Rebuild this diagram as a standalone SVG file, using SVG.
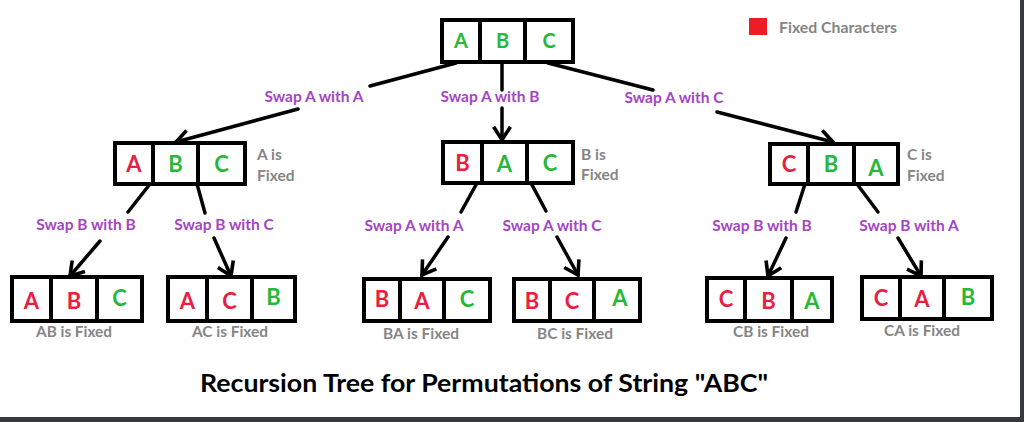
<svg xmlns="http://www.w3.org/2000/svg" width="1024" height="422" viewBox="0 0 1024 422">
<defs>
<marker id="arr" markerUnits="userSpaceOnUse" markerWidth="24" markerHeight="24" viewBox="-14 -10 18 20" refX="0" refY="0" orient="auto">
<path d="M-11,-7 L0,0 L-11,7" fill="none" stroke="#000" stroke-width="3"/>
</marker>
</defs>
<style>
.box{fill:#fff;stroke:#000;stroke-width:4}
.div{stroke:#000;stroke-width:4}
.r{fill:#e8203f;font-family:Lato,"Liberation Sans",sans-serif;font-weight:700;font-size:22px;text-anchor:middle}
.g{fill:#27b83a;font-family:Lato,"Liberation Sans",sans-serif;font-weight:700;font-size:22px;text-anchor:middle}
.gray{fill:#858585;font-family:Lato,"Liberation Sans",sans-serif;font-weight:700;font-size:15.5px}
.grayc{fill:#858585;font-family:Lato,"Liberation Sans",sans-serif;font-weight:700;font-size:16px;text-anchor:middle}
.lbl{fill:#a445c4;font-family:Lato,"Liberation Sans",sans-serif;font-weight:700;font-size:15.5px;text-anchor:middle}
.ln{stroke:#000;stroke-width:3.5;fill:none;stroke-linecap:round}
.title{fill:#000;font-family:Lato,"Liberation Sans",sans-serif;font-weight:700;font-size:24px;text-anchor:middle}
</style>
<rect x="0" y="0" width="1024" height="422" fill="#fff"/>
<rect x="1020" y="0" width="4" height="422" fill="#36393c"/>
<rect x="0" y="417" width="1024" height="5" fill="#36393c"/>

<g id="legend">
<rect x="749" y="18" width="18" height="17" fill="#ee1c24"/>
<text class="gray" x="779" y="33" textLength="118" lengthAdjust="spacingAndGlyphs">Fixed Characters</text>
</g>

<g id="connectors">
<line class="ln" x1="456" y1="63" x2="370" y2="86"/>
<line class="ln" x1="298" y1="109" x2="176" y2="142" marker-end="url(#arr)"/>
<line class="ln" x1="502" y1="63" x2="502" y2="90"/>
<line class="ln" x1="502" y1="108" x2="502" y2="140" marker-end="url(#arr)"/>
<line class="ln" x1="548" y1="63" x2="653" y2="90"/>
<line class="ln" x1="717" y1="112" x2="833" y2="142" marker-end="url(#arr)"/>

<line class="ln" x1="150" y1="184" x2="128" y2="212"/>
<line class="ln" x1="100" y1="241" x2="70" y2="276" marker-end="url(#arr)"/>
<line class="ln" x1="197" y1="184" x2="205" y2="213"/>
<line class="ln" x1="214" y1="238" x2="231" y2="276" marker-end="url(#arr)"/>

<line class="ln" x1="477" y1="183" x2="461" y2="212"/>
<line class="ln" x1="448" y1="237" x2="422" y2="275" marker-end="url(#arr)"/>
<line class="ln" x1="531" y1="183" x2="546" y2="211"/>
<line class="ln" x1="557" y1="237" x2="578" y2="275" marker-end="url(#arr)"/>

<line class="ln" x1="805" y1="184" x2="796" y2="212"/>
<line class="ln" x1="786" y1="238" x2="768" y2="276" marker-end="url(#arr)"/>
<line class="ln" x1="857" y1="184" x2="878" y2="212"/>
<line class="ln" x1="898" y1="238" x2="921" y2="276" marker-end="url(#arr)"/>

<text class="lbl" x="314" y="102">Swap A with A</text>
<text class="lbl" x="490" y="102">Swap A with B</text>
<text class="lbl" x="674" y="103">Swap A with C</text>
<text class="lbl" x="86" y="230">Swap B with B</text>
<text class="lbl" x="224" y="230">Swap B with C</text>
<text class="lbl" x="414" y="231">Swap A with A</text>
<text class="lbl" x="552" y="231">Swap A with C</text>
<text class="lbl" x="762" y="231">Swap B with B</text>
<text class="lbl" x="909" y="231">Swap B with A</text>
</g>

<g id="n-abc">
<rect class="box" x="442" y="20" width="131" height="42"/>
<line class="div" x1="480" y1="20" x2="480" y2="62"/>
<line class="div" x1="525" y1="20" x2="525" y2="62"/>
<text class="g" x="461" y="48" style="font-size:20px">A</text>
<text class="g" x="502.5" y="48" style="font-size:20px">B</text>
<text class="g" x="549" y="48" style="font-size:20px">C</text>
</g>

<g id="n-a-bc">
<rect class="box" x="115" y="143" width="130" height="41"/>
<line class="div" x1="153" y1="143" x2="153" y2="184"/>
<line class="div" x1="198" y1="143" x2="198" y2="184"/>
<text class="r" x="134" y="172">A</text>
<text class="g" x="175.5" y="172">B</text>
<text class="g" x="221.5" y="172">C</text>
<text class="gray" x="257" y="160">A is</text>
<text class="gray" x="257" y="181">Fixed</text>
</g>

<g id="n-b-ac">
<rect class="box" x="443" y="142" width="130" height="41"/>
<line class="div" x1="482" y1="142" x2="482" y2="183"/>
<line class="div" x1="527" y1="142" x2="527" y2="183"/>
<text class="r" x="462.5" y="171">B</text>
<text class="g" x="504.5" y="172">A</text>
<text class="g" x="550" y="171">C</text>
<text class="gray" x="581" y="160">B is</text>
<text class="gray" x="581" y="180">Fixed</text>
</g>

<g id="n-c-ba">
<rect class="box" x="770" y="144" width="128" height="40"/>
<line class="div" x1="808" y1="144" x2="808" y2="184"/>
<line class="div" x1="854" y1="144" x2="854" y2="184"/>
<text class="r" x="789" y="172">C</text>
<text class="g" x="831" y="172">B</text>
<text class="g" x="876" y="176">A</text>
<text class="gray" x="907" y="160">C is</text>
<text class="gray" x="907" y="181">Fixed</text>
</g>

<g id="n-ab-c">
<rect class="box" x="12" y="277" width="130" height="44"/>
<line class="div" x1="51" y1="277" x2="51" y2="321"/>
<line class="div" x1="97" y1="277" x2="97" y2="321"/>
<text class="r" x="31.5" y="309">A</text>
<text class="r" x="74" y="309">B</text>
<text class="g" x="119.5" y="306">C</text>
<text class="grayc" x="74" y="337" textLength="76" lengthAdjust="spacingAndGlyphs">AB is Fixed</text>
</g>

<g id="n-ac-b">
<rect class="box" x="168" y="277" width="127" height="44"/>
<line class="div" x1="207" y1="277" x2="207" y2="321"/>
<line class="div" x1="252" y1="277" x2="252" y2="321"/>
<text class="r" x="187.5" y="309">A</text>
<text class="r" x="229.5" y="309">C</text>
<text class="g" x="273.5" y="305">B</text>
<text class="grayc" x="230" y="337" textLength="76" lengthAdjust="spacingAndGlyphs">AC is Fixed</text>
</g>

<g id="n-ba-c">
<rect class="box" x="364" y="279" width="126" height="42"/>
<line class="div" x1="400" y1="279" x2="400" y2="321"/>
<line class="div" x1="444" y1="279" x2="444" y2="321"/>
<text class="r" x="382" y="307">B</text>
<text class="r" x="422" y="309">A</text>
<text class="g" x="467" y="307">C</text>
<text class="grayc" x="421" y="339" textLength="76" lengthAdjust="spacingAndGlyphs">BA is Fixed</text>
</g>

<g id="n-bc-a">
<rect class="box" x="514" y="279" width="126" height="42"/>
<line class="div" x1="550" y1="279" x2="550" y2="321"/>
<line class="div" x1="594" y1="279" x2="594" y2="321"/>
<text class="r" x="532" y="309">B</text>
<text class="r" x="572" y="309">C</text>
<text class="g" x="620" y="306">A</text>
<text class="grayc" x="575" y="339" textLength="76" lengthAdjust="spacingAndGlyphs">BC is Fixed</text>
</g>

<g id="n-cb-a">
<rect class="box" x="707" y="278" width="125" height="43"/>
<line class="div" x1="745" y1="278" x2="745" y2="321"/>
<line class="div" x1="792" y1="278" x2="792" y2="321"/>
<text class="r" x="726" y="307">C</text>
<text class="r" x="768.5" y="309">B</text>
<text class="g" x="812" y="309">A</text>
<text class="grayc" x="771" y="337" textLength="76" lengthAdjust="spacingAndGlyphs">CB is Fixed</text>
</g>

<g id="n-ca-b">
<rect class="box" x="862" y="277" width="130" height="42"/>
<line class="div" x1="900" y1="277" x2="900" y2="319"/>
<line class="div" x1="944" y1="277" x2="944" y2="319"/>
<text class="r" x="881" y="306">C</text>
<text class="r" x="922" y="307">A</text>
<text class="g" x="968" y="305">B</text>
<text class="grayc" x="922" y="336" textLength="76" lengthAdjust="spacingAndGlyphs">CA is Fixed</text>
</g>

<text class="title" x="484" y="392" textLength="568" lengthAdjust="spacingAndGlyphs">Recursion Tree for Permutations of String "ABC"</text>
</svg>
